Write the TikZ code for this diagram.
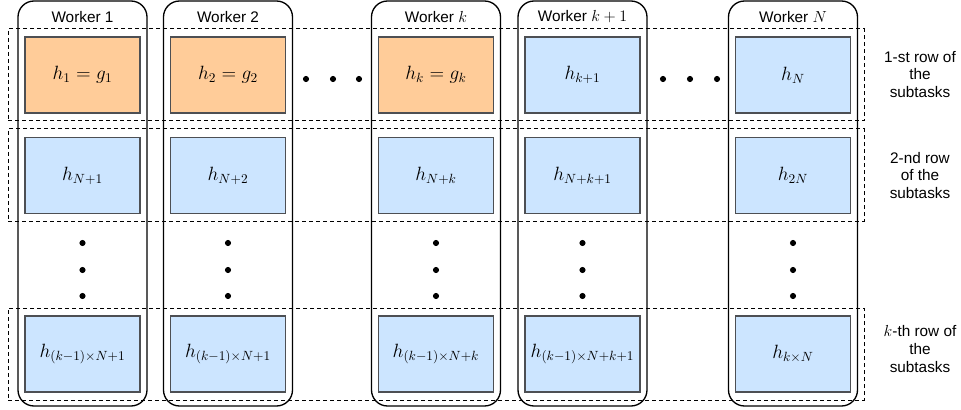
\documentclass[tikz,border=0pt]{standalone}
\usepackage{amsmath, amssymb}
\usepackage[no-math]{fontspec}
\setmainfont{Liberation Sans}
\usepackage{tikz}
\usetikzlibrary{positioning}

\definecolor{taskorange}{HTML}{FFCC99}
\definecolor{taskblue}{HTML}{CCE5FF}
\definecolor{taskline}{HTML}{4D4F53}

\begin{document}
\begin{tikzpicture}[x=0.75pt, y=-0.75pt,
		worker/.style={draw, line width=1pt, rounded corners=12pt, minimum width=96.75pt, minimum height=303.75pt, inner sep=0pt},
		rowbox/.style={draw, line width=0.75pt, dash pattern=on 3pt off 2.25pt, minimum width=642pt, minimum height=69pt, inner sep=0pt},
		task/.style={draw=taskline, line width=0.9pt, fill=taskblue, minimum width=86.25pt, minimum height=57pt, inner sep=0pt, font=\fontsize{14}{16}\selectfont},
		sidelabel/.style={align=center, font=\fontsize{11.5}{13.2}\selectfont}]
			\useasboundingbox (0,0) rectangle (961,410);
			
			% Spalten der Worker
			\foreach \n/\x/\t in {w1/82.5/1, w2/228/2, wk/436/$k$, wl/582.5/$k+1$, wN/793/$N$} {
				\node[worker] (\n) at (\x,203.5) {};
				\node[font=\fontsize{11.5}{13}\selectfont] (\n-title) at (\x,17) {Worker \t};
			}
			
			% Zeilen (gestrichelt)
			\foreach \r/\y in {row1/75, row2/175, rowk/354}
				\node[rowbox] (\r) at (436,\y) {};
			
			% Teilaufgaben
			\node[task, fill=taskorange] (t11) at (82.5,75) {$h_1 = g_1$};
			\node[task, fill=taskorange] (t12) at (228,75) {$h_2 = g_2$};
			\node[task, fill=taskorange] (t1k) at (436,75) {$h_k = g_k$};
			\node[task] (t1l) at (582.5,75) {$h_{k+1}$};
			\node[task] (t1N) at (793,75) {$h_N$};
			
			\node[task] (t21) at (82.5,175.5) {$h_{N+1}$};
			\node[task] (t22) at (228,175.5) {$h_{N+2}$};
			\node[task] (t2k) at (436,175.5) {$h_{N+k}$};
			\node[task] (t2l) at (582.5,175.5) {$h_{N+k+1}$};
			\node[task] (t2N) at (793,175.5) {$h_{2N}$};
			
			\node[task] (tk1) at (82.5,354) {$h_{(k-1)\times N+1}$};
			\node[task] (tk2) at (228,354) {$h_{(k-1)\times N+1}$};
			\node[task] (tkk) at (436,354) {$h_{(k-1)\times N+k}$};
			\node[task] (tkl) at (582.5,354) {$h_{(k-1)\times N+k+1}$};
			\node[task] (tkN) at (793,354) {$h_{k\times N}$};
			
			% Punkte
			\foreach \x in {306, 333, 359, 663, 690, 717}
				\fill (\x,79) circle (2.3pt);
			\foreach \x in {82.5, 228, 436, 582.5, 793}
				\foreach \y in {243, 270, 296}
					\fill (\x,\y) circle (2.3pt);
			
			% Beschriftung rechts
			\node[sidelabel] (l1) at (920,74.5) {1-st row of\\the\\subtasks};
			\node[sidelabel] (l2) at (920,175.5) {2-nd row\\of the\\subtasks};
			\node[sidelabel] (lk) at (920,349) {$k$-th row of\\the\\subtasks};
		\end{tikzpicture}
\end{document}
